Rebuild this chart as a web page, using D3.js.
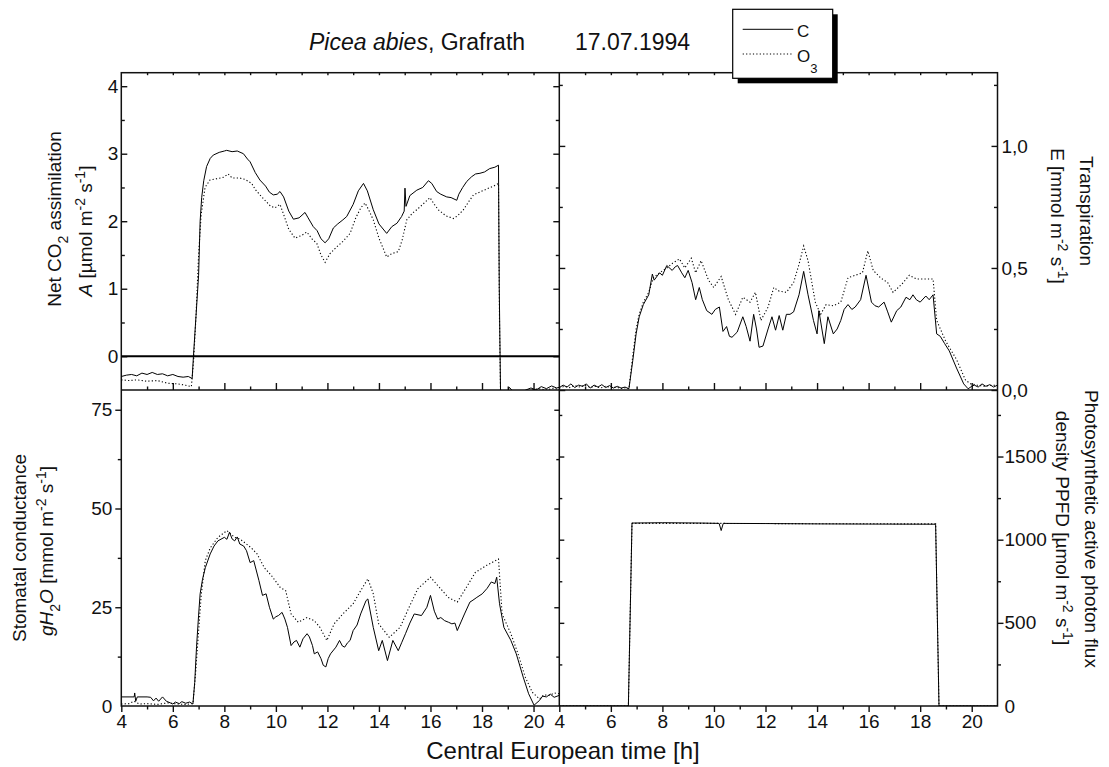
<!DOCTYPE html>
<html>
<head>
<meta charset="utf-8">
<script src="https://cdn.jsdelivr.net/npm/d3@7"></script>
<style>
  body { margin: 0; background: #fff; }
  svg { font-family: "Liberation Sans", Arial, sans-serif; }
</style>
</head>
<body>
<div id="chart"></div>
<script>
// time [h] / value pairs
const assimC = [[4.0,-0.30],[4.2,-0.28],[4.4,-0.27],[4.6,-0.29],[4.8,-0.25],[5.0,-0.27],[5.2,-0.24],[5.4,-0.27],[5.6,-0.26],[5.8,-0.29],[6.0,-0.27],[6.2,-0.30],[6.4,-0.31],[6.6,-0.30],[6.75,-0.33],[6.8,0.0],[6.9,0.6],[7.0,1.2],[7.06,2.0],[7.12,2.35],[7.2,2.6],[7.31,2.81],[7.45,2.93],[7.57,2.98],[7.8,3.02],[8.0,3.04],[8.09,3.05],[8.3,3.03],[8.5,3.04],[8.74,3.0],[8.9,2.92],[9.0,2.88],[9.2,2.72],[9.38,2.61],[9.6,2.52],[9.75,2.43],[9.9,2.39],[10.05,2.40],[10.16,2.44],[10.3,2.36],[10.5,2.15],[10.68,2.03],[10.9,2.05],[11.13,2.13],[11.25,2.05],[11.45,1.92],[11.6,1.86],[11.75,1.74],[11.91,1.68],[12.05,1.74],[12.23,1.9],[12.4,1.96],[12.6,2.02],[12.75,2.07],[13.0,2.25],[13.2,2.45],[13.4,2.56],[13.55,2.45],[13.78,2.17],[14.0,1.96],[14.3,1.82],[14.5,1.92],[14.7,1.97],[14.88,2.07],[14.98,2.15],[15.01,2.49],[15.05,2.22],[15.2,2.38],[15.47,2.46],[15.7,2.5],[15.92,2.6],[16.05,2.56],[16.24,2.44],[16.4,2.40],[16.63,2.36],[16.8,2.35],[17.02,2.31],[17.1,2.4],[17.25,2.5],[17.41,2.59],[17.6,2.66],[17.75,2.7],[17.92,2.71],[18.1,2.73],[18.3,2.78],[18.5,2.8],[18.64,2.83],[18.67,1.0],[18.72,-0.55],[18.8,-0.6],[19.0,-0.52],[19.06,-0.46],[19.2,-0.52],[19.5,-0.55],[19.7,-0.5],[19.9,-0.47],[20.1,-0.5],[20.3,-0.45],[20.5,-0.48],[20.7,-0.44],[20.9,-0.47],[21.0,-0.46]];
const assimO3 = [[4.0,-0.35],[4.3,-0.36],[4.6,-0.35],[5.0,-0.37],[5.4,-0.36],[5.8,-0.40],[6.2,-0.41],[6.5,-0.43],[6.72,-0.45],[6.8,-0.1],[6.9,0.6],[7.0,1.5],[7.1,2.1],[7.25,2.5],[7.44,2.61],[7.7,2.63],[7.96,2.65],[8.15,2.7],[8.3,2.64],[8.6,2.64],[8.8,2.62],[9.06,2.56],[9.2,2.47],[9.38,2.39],[9.6,2.3],[9.8,2.22],[9.97,2.2],[10.16,2.25],[10.3,2.1],[10.5,1.88],[10.74,1.75],[11.0,1.79],[11.2,1.84],[11.4,1.74],[11.59,1.67],[11.75,1.5],[11.91,1.39],[12.1,1.52],[12.36,1.62],[12.6,1.7],[12.88,1.82],[13.1,2.05],[13.3,2.2],[13.46,2.27],[13.6,2.17],[13.78,2.02],[14.0,1.75],[14.3,1.47],[14.5,1.52],[14.75,1.55],[14.9,1.72],[15.08,2.02],[15.3,2.12],[15.47,2.17],[15.7,2.25],[15.98,2.35],[16.15,2.25],[16.3,2.17],[16.6,2.08],[16.89,2.04],[17.05,2.08],[17.28,2.17],[17.5,2.3],[17.67,2.39],[17.9,2.43],[18.2,2.48],[18.45,2.52],[18.64,2.56],[18.68,0.5],[18.72,-0.55],[19.0,-0.55],[19.3,-0.52],[19.6,-0.55],[19.9,-0.5],[20.2,-0.48],[20.5,-0.5],[20.8,-0.47],[21.0,-0.5]];

const transpC = [[4.0,0.01],[4.15,0.02],[4.3,0.012],[4.45,0.025],[4.6,0.01],[4.75,0.02],[4.9,0.015],[5.05,0.025],[5.2,0.008],[5.35,0.02],[5.5,0.012],[5.65,0.022],[5.8,0.01],[5.95,0.018],[6.1,0.008],[6.25,0.015],[6.4,0.008],[6.55,0.012],[6.7,0.005],[6.85,0.12],[6.98,0.23],[7.1,0.3],[7.26,0.35],[7.47,0.39],[7.61,0.475],[7.68,0.45],[7.89,0.48],[8.0,0.47],[8.17,0.51],[8.38,0.49],[8.5,0.505],[8.59,0.51],[8.75,0.48],[8.87,0.46],[9.0,0.49],[9.15,0.44],[9.29,0.37],[9.43,0.42],[9.55,0.37],[9.72,0.325],[9.92,0.31],[10.05,0.33],[10.21,0.34],[10.35,0.24],[10.49,0.26],[10.6,0.22],[10.7,0.216],[10.9,0.237],[11.12,0.3],[11.25,0.26],[11.4,0.2],[11.54,0.31],[11.65,0.25],[11.75,0.175],[11.9,0.18],[12.1,0.25],[12.25,0.3],[12.39,0.245],[12.53,0.305],[12.67,0.245],[12.81,0.31],[12.95,0.31],[13.09,0.32],[13.3,0.39],[13.48,0.486],[13.65,0.39],[13.86,0.285],[14.0,0.23],[14.07,0.325],[14.28,0.19],[14.42,0.3],[14.63,0.23],[14.78,0.25],[14.92,0.285],[15.05,0.33],[15.2,0.35],[15.35,0.33],[15.48,0.34],[15.69,0.37],[15.9,0.47],[16.11,0.36],[16.25,0.345],[16.39,0.34],[16.6,0.36],[16.74,0.32],[16.88,0.278],[17.09,0.325],[17.25,0.34],[17.45,0.38],[17.6,0.37],[17.72,0.39],[17.85,0.37],[18.0,0.36],[18.22,0.385],[18.35,0.37],[18.5,0.39],[18.64,0.23],[18.78,0.22],[18.95,0.19],[19.13,0.16],[19.41,0.09],[19.69,0.025],[19.86,0.005],[20.0,0.015],[20.1,0.02],[20.25,0.012],[20.4,0.025],[20.55,0.015],[20.7,0.022],[20.85,0.012],[21.0,0.02]];
const transpO3 = [[4.0,0.008],[4.2,0.015],[4.4,0.01],[4.6,0.018],[4.8,0.012],[5.0,0.02],[5.2,0.01],[5.4,0.015],[5.6,0.008],[5.8,0.015],[6.0,0.01],[6.2,0.012],[6.4,0.006],[6.6,0.01],[6.7,0.005],[6.85,0.14],[6.98,0.25],[7.1,0.31],[7.26,0.36],[7.47,0.4],[7.65,0.46],[7.89,0.48],[8.17,0.5],[8.4,0.52],[8.66,0.537],[8.87,0.5],[9.12,0.54],[9.29,0.48],[9.5,0.53],[9.79,0.45],[9.99,0.42],[10.28,0.465],[10.56,0.37],[10.84,0.31],[11.12,0.38],[11.4,0.36],[11.61,0.4],[11.82,0.285],[12.1,0.34],[12.32,0.42],[12.53,0.405],[12.81,0.4],[13.09,0.44],[13.3,0.515],[13.48,0.59],[13.65,0.53],[13.93,0.36],[14.14,0.31],[14.35,0.35],[14.63,0.345],[14.92,0.36],[15.2,0.46],[15.48,0.47],[15.76,0.48],[15.97,0.57],[16.18,0.49],[16.46,0.46],[16.74,0.44],[16.95,0.4],[17.3,0.435],[17.58,0.47],[17.86,0.455],[18.2,0.455],[18.5,0.455],[18.64,0.285],[18.99,0.2],[19.41,0.125],[19.76,0.04],[19.97,0.025],[20.2,0.02],[20.5,0.015],[20.8,0.02],[21.0,0.018]];

const condC = [[4.0,2.3],[4.3,2.3],[4.5,2.3],[4.52,3.3],[4.56,1.2],[4.62,2.3],[5.0,2.3],[5.14,2.2],[5.25,1.3],[5.35,2.0],[5.45,1.2],[5.6,2.3],[5.75,1.2],[5.9,0.8],[6.0,0.5],[6.1,1.0],[6.25,0.6],[6.35,1.1],[6.5,0.7],[6.65,1.0],[6.78,0.5],[6.85,6],[6.92,15],[7.0,23],[7.06,28.4],[7.15,32],[7.26,35],[7.45,38.5],[7.6,40.5],[7.75,41.8],[8.0,42.7],[8.1,42.2],[8.2,44],[8.3,42.3],[8.4,41.8],[8.5,42.8],[8.6,41],[8.75,40.5],[8.86,39.3],[9.0,36.3],[9.14,36.8],[9.34,31.8],[9.48,28],[9.62,28.4],[9.75,25],[9.9,22],[10.0,22.6],[10.1,22.9],[10.24,23.7],[10.35,22],[10.45,19.9],[10.59,15.3],[10.7,16.2],[10.8,16.6],[10.93,14.9],[11.05,17],[11.21,18.3],[11.3,17.5],[11.42,15.3],[11.49,13.2],[11.62,13.7],[11.75,12],[11.84,10.3],[11.94,9.9],[12.03,12],[12.12,13.2],[12.33,14.9],[12.47,16.6],[12.58,15.2],[12.67,14.9],[12.78,16],[12.88,16.6],[13.0,19.1],[13.15,20.5],[13.29,23.3],[13.5,26.7],[13.57,27.1],[13.78,19.9],[13.99,14.0],[14.13,16.6],[14.33,11.5],[14.54,16.6],[14.75,14.0],[14.88,16],[15.03,18.3],[15.2,21],[15.37,23.3],[15.65,22.9],[15.86,25],[16.0,28],[16.15,24],[16.28,22],[16.4,22.4],[16.55,21.6],[16.7,21.2],[16.83,20.8],[16.95,21],[17.04,19.1],[17.2,21.5],[17.32,23.3],[17.53,26.3],[17.65,26.8],[17.8,27.5],[18.01,28.4],[18.2,29.8],[18.36,31.4],[18.5,31],[18.57,32.6],[18.68,25.9],[18.85,19.9],[19.12,16.6],[19.33,13.2],[19.6,7.3],[19.81,3.1],[20.02,0.2],[20.23,1.4],[20.35,2.5],[20.5,2.3],[20.65,3.0],[20.8,2.2],[21.0,2.7]];
const condO3 = [[4.0,0.5],[4.3,0.6],[4.5,1.2],[4.7,0.5],[5.0,0.6],[5.4,0.4],[5.8,0.8],[6.2,0.5],[6.5,0.4],[6.78,0.6],[6.88,8],[6.99,18],[7.1,28],[7.26,36.8],[7.45,40],[7.75,42.7],[8.1,44.4],[8.4,42.7],[8.6,42.3],[8.86,41],[9.05,40],[9.27,38.5],[9.55,35],[9.83,33],[10.17,30],[10.38,29.2],[10.59,23.3],[10.87,21.2],[11.21,22.4],[11.49,21.6],[11.7,20],[11.84,18.3],[11.98,16.6],[12.26,20.8],[12.6,23.3],[13.0,25.9],[13.29,29.2],[13.57,32.2],[13.78,28.4],[13.99,20.8],[14.4,17.4],[14.82,19.9],[15.17,25.0],[15.51,29.7],[16.0,32.6],[16.35,30],[16.69,27.5],[17.04,26.3],[17.39,30],[17.74,33.8],[18.15,35.5],[18.64,37.2],[18.78,23.3],[19.12,18.3],[19.4,13.2],[19.68,7.3],[19.95,3.5],[20.23,1.8],[20.4,2.8],[20.64,2.7],[20.8,3.3],[21.0,3.1]];

const ppfdC = [[4.0,0],[6.68,0],[6.82,1100],[8.0,1102],[9.5,1100],[10.2,1098],[10.28,1055],[10.36,1098],[12.0,1097],[14.0,1095],[16.0,1094],[18.6,1093],[18.73,0],[21.0,0]];
const ppfdO3 = [[4.0,0],[6.68,0],[6.82,1098],[10.0,1098],[14.0,1096],[18.6,1095],[18.73,0],[21.0,0]];

// tick values
const hourMajor = [4, 6, 8, 10, 12, 14, 16, 18, 20];
const hourMinor = [5, 7, 9, 11, 13, 15, 17, 19];
const hourAll = d3.range(5, 21);
const aMajor = [0, 1, 2, 3, 4];
const aMinor = [0.5, 1.5, 2.5, 3.5];
const eMajor = [0, 0.5, 1.0];
const eMinor = [0.25, 0.75, 1.25];
const gMajor = [0, 25, 50, 75];
const gMinor = [12.5, 37.5, 62.5];
const pMajor = [0, 500, 1000, 1500];
const pMinor = [250, 750, 1250, 1750];

const width = 1109;
const height = 767;
const x0 = 121.3, xm = 559.3, x1 = 997.5;
const y0 = 72.7, ym = 390, y1 = 706;
const tickFont = 19;

const svg = d3.select('#chart').append('svg')
  .attr('width', width)
  .attr('height', height);

const xLeft = d3.scaleLinear().domain([4, 21]).range([x0, xm]);
const xRight = d3.scaleLinear().domain([4, 21]).range([xm, x1]);
const yA = d3.scaleLinear().domain([-0.5, 4.2]).range([ym, y0]);
const yE = d3.scaleLinear().domain([0, 1.3]).range([ym, y0]);
const yG = d3.scaleLinear().domain([0, 80]).range([y1, ym]);
const yP = d3.scaleLinear().domain([0, 1900]).range([y1, ym]);

// tick marks only
function ticks(axisFn, scale, values, size, tx, ty) {
  svg.append('g')
    .attr('transform', `translate(${tx},${ty})`)
    .call(axisFn(scale).tickValues(values).tickSize(size).tickSizeOuter(0).tickFormat(''))
    .call(g => g.select('.domain').remove())
    .selectAll('line').attr('stroke', '#111').attr('stroke-width', 1.4);
}

// labels only
function labels(axisFn, scale, values, pad, fmt, tx, ty) {
  svg.append('g')
    .attr('transform', `translate(${tx},${ty})`)
    .call(axisFn(scale).tickValues(values).tickSize(0).tickPadding(pad).tickFormat(fmt))
    .call(g => g.select('.domain').remove())
    .call(g => g.selectAll('line').remove())
    .attr('font-family', null)
    .attr('font-size', tickFont)
    .selectAll('text').attr('fill', '#111');
}

const intFmt = d3.format('d');
const commaFmt = d => d3.format('.1f')(d).replace('.', ',');

// top-left: A (ticks inward)
ticks(d3.axisRight, yA, aMajor, 6, x0, 0);
ticks(d3.axisRight, yA, aMinor, 3.5, x0, 0);
ticks(d3.axisLeft, yA, aMajor, 6, xm, 0);
ticks(d3.axisLeft, yA, aMinor, 3.5, xm, 0);
labels(d3.axisLeft, yA, aMajor, 3, intFmt, x0, 0);

// top-right: E (ticks inward)
ticks(d3.axisRight, yE, eMajor, 6, xm, 0);
ticks(d3.axisRight, yE, eMinor, 3.5, xm, 0);
ticks(d3.axisLeft, yE, eMajor, 6, x1, 0);
ticks(d3.axisLeft, yE, eMinor, 3.5, x1, 0);
labels(d3.axisRight, yE, eMajor, 4, commaFmt, x1, 0);

// top panels, time axes (inward, no labels)
[xLeft, xRight].forEach(xs => {
  ticks(d3.axisTop, xs, hourMajor.slice(1), 7, 0, ym);
  ticks(d3.axisTop, xs, hourMinor, 3.5, 0, ym);
  ticks(d3.axisBottom, xs, hourAll, 2.5, 0, y0);
});

// bottom-left: g (ticks outward)
ticks(d3.axisLeft, yG, gMajor.slice(1), 6, x0, 0);
ticks(d3.axisLeft, yG, gMinor, 3.5, x0, 0);
ticks(d3.axisLeft, yG, gMajor.slice(1), 5, xm, 0);
ticks(d3.axisLeft, yG, gMinor, 3, xm, 0);
labels(d3.axisLeft, yG, gMajor, 9, intFmt, x0, 0);

// bottom-right: PPFD (ticks outward)
ticks(d3.axisRight, yP, pMajor.slice(1), 6, x1, 0);
ticks(d3.axisRight, yP, pMinor, 3.5, x1, 0);
ticks(d3.axisRight, yP, pMajor.slice(1), 5, xm, 0);
ticks(d3.axisRight, yP, pMinor, 3, xm, 0);
labels(d3.axisRight, yP, pMajor, 7, intFmt, x1, 0);

// bottom time axes (outward, labelled)
[xLeft, xRight].forEach(xs => {
  ticks(d3.axisBottom, xs, hourMajor, 6, 0, y1);
  ticks(d3.axisBottom, xs, hourMinor, 3.5, 0, y1);
  labels(d3.axisBottom, xs, hourMajor, 8.5, intFmt, 0, y1);
});

// frame
const frame = svg.append('g').attr('fill', 'none').attr('stroke', '#111').attr('stroke-width', 1.5);
frame.append('rect').attr('x', x0).attr('y', y0).attr('width', x1 - x0).attr('height', y1 - y0);
frame.append('line').attr('x1', xm).attr('x2', xm).attr('y1', y0).attr('y2', y1);
frame.append('line').attr('x1', x0).attr('x2', x1).attr('y1', ym).attr('y2', ym);

// data
const panels = [
  { id: 'tl', xs: xLeft, ys: yA, box: [x0, y0, xm, ym], c: assimC, o: assimO3 },
  { id: 'tr', xs: xRight, ys: yE, box: [xm, y0, x1, ym], c: transpC, o: transpO3 },
  { id: 'bl', xs: xLeft, ys: yG, box: [x0, ym, xm, y1], c: condC, o: condO3 },
  { id: 'br', xs: xRight, ys: yP, box: [xm, ym, x1, y1], c: ppfdC, o: ppfdO3 }
];

const defs = svg.append('defs');
panels.forEach(p => {
  const [bx0, by0, bx1, by1] = p.box;
  defs.append('clipPath').attr('id', 'clip-' + p.id)
    .append('rect').attr('x', bx0).attr('y', by0).attr('width', bx1 - bx0).attr('height', by1 - by0);

  const line = d3.line().x(d => p.xs(d[0])).y(d => p.ys(d[1]));
  const g = svg.append('g').attr('clip-path', `url(#clip-${p.id})`);
  g.append('path').datum(p.o)
    .attr('d', line).attr('fill', 'none').attr('stroke', '#000')
    .attr('stroke-width', 1.1).attr('stroke-dasharray', '1.2,2.2');
  g.append('path').datum(p.c)
    .attr('d', line).attr('fill', 'none').attr('stroke', '#000').attr('stroke-width', 1);
});

// zero line in assimilation panel
svg.append('line')
  .attr('x1', x0).attr('x2', xm)
  .attr('y1', yA(0)).attr('y2', yA(0))
  .attr('stroke', '#000').attr('stroke-width', 2);

// text with sub/superscripts: [text, 'sub'|'sup'|null, italic]
function rich(sel, parts, size) {
  let shift = 0;
  parts.forEach(([txt, kind, it]) => {
    const target = kind === 'sub' ? Math.round(size * 0.38) : kind === 'sup' ? -Math.round(size * 0.38) : 0;
    sel.append('tspan')
      .attr('dy', target - shift)
      .style('font-size', kind ? Math.round(size * 0.72) + 'px' : null)
      .style('font-style', it ? 'italic' : null)
      .text(txt);
    shift = target;
  });
}

function axisTitle(x, y, angle, parts) {
  const t = svg.append('text')
    .attr('transform', `translate(${x},${y}) rotate(${angle})`)
    .attr('text-anchor', 'middle')
    .attr('font-size', 19)
    .attr('fill', '#111');
  rich(t, parts, 19);
}

axisTitle(60.5, 219, -90, [['Net CO'], ['2', 'sub'], [' assimilation']]);
axisTitle(92, 231, -90, [['A', null, true], [' [µmol m'], ['-2', 'sup'], [' s'], ['-1', 'sup'], [']']]);
axisTitle(1080, 211, 90, [['Transpiration']]);
axisTitle(1051, 216, 90, [['E [mmol m'], ['-2', 'sup'], [' s'], ['-1', 'sup'], [']']]);
axisTitle(26, 548, -90, [['Stomatal conductance']]);
axisTitle(53, 551, -90, [['gH', null, true], ['2', 'sub'], ['O', null, true], [' [mmol m'], ['-2', 'sup'], [' s'], ['-1', 'sup'], [']']]);
axisTitle(1085, 529, 90, [['Photosynthetic active photon flux']]);
axisTitle(1056, 528, 90, [['density PPFD [µmol m'], ['-2', 'sup'], ['  s'], ['-1', 'sup'], [']']]);

svg.append('text')
  .attr('x', 563).attr('y', 759)
  .attr('text-anchor', 'middle')
  .attr('font-size', 24)
  .attr('fill', '#111')
  .text('Central European time [h]');

// title
const title = svg.append('text').attr('x', 309).attr('y', 50).attr('font-size', 23).attr('fill', '#111');
title.append('tspan').style('font-style', 'italic').text('Picea abies');
title.append('tspan').text(', Grafrath');
svg.append('text').attr('x', 575).attr('y', 50).attr('font-size', 23).attr('fill', '#111').text('17.07.1994');

// legend
const lg = svg.append('g');
lg.append('rect').attr('x', 737.7).attr('y', 14.3).attr('width', 100).attr('height', 69).attr('fill', '#000');
lg.append('rect').attr('x', 732.7).attr('y', 9.3).attr('width', 100).attr('height', 69)
  .attr('fill', '#fff').attr('stroke', '#000').attr('stroke-width', 1.2);
lg.append('line').attr('x1', 742.7).attr('x2', 793.3).attr('y1', 29.3).attr('y2', 29.3)
  .attr('stroke', '#000').attr('stroke-width', 1);
lg.append('line').attr('x1', 742.7).attr('x2', 793.3).attr('y1', 54).attr('y2', 54)
  .attr('stroke', '#000').attr('stroke-width', 1.1).attr('stroke-dasharray', '1.2,2.2');
lg.append('text').attr('x', 797).attr('y', 36.7).attr('font-size', 17).attr('fill', '#111').text('C');
const o3 = lg.append('text').attr('x', 797).attr('y', 62.3).attr('font-size', 17).attr('fill', '#111');
o3.append('tspan').text('O');
o3.append('tspan').attr('dy', 11).style('font-size', '13px').text('3');
</script>
</body>
</html>
